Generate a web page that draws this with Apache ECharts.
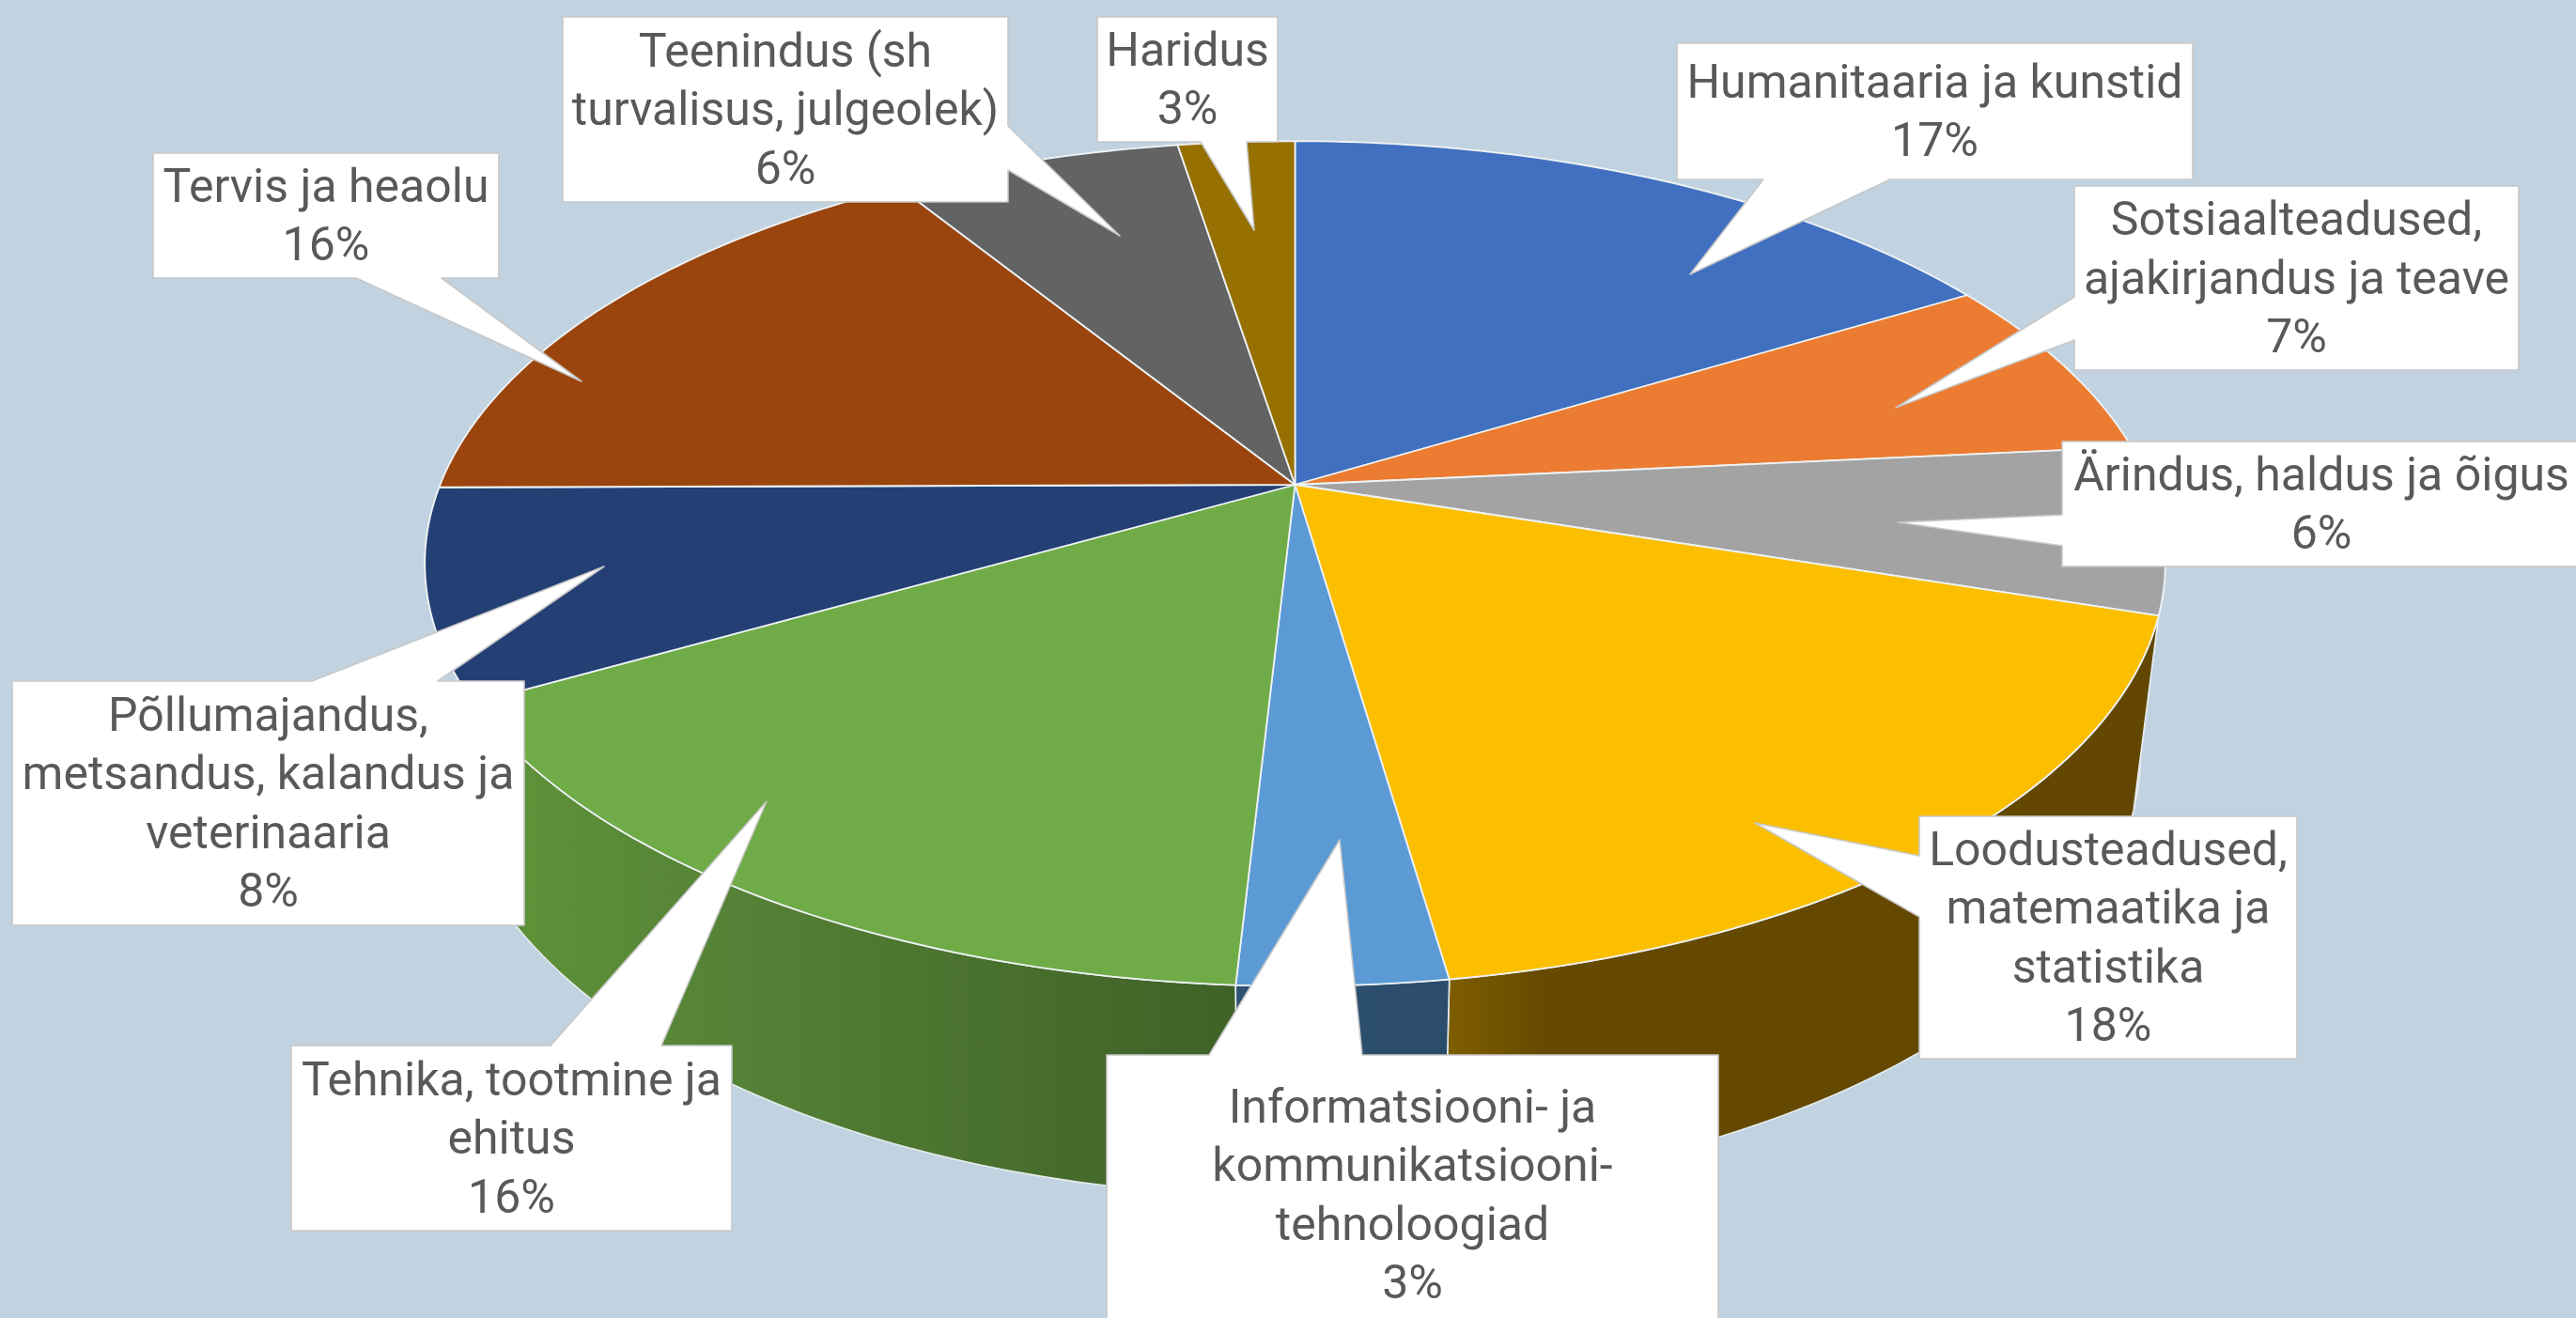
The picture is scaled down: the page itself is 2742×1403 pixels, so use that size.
<!DOCTYPE html>
<html>
<head>
<meta charset="utf-8">
<script src="https://cdn.jsdelivr.net/npm/echarts@6/dist/echarts.min.js"></script>
<style>html,body{margin:0;padding:0;background:#c1d3e0;overflow:hidden}#chart{width:2742px;height:1403px}</style>
</head>
<body>
<div id="chart"></div>
<script>
// ---- data ----
const categories = [
  'Humanitaaria ja kunstid',
  'Sotsiaalteadused,\najakirjandus ja teave',
  'Ärindus, haldus ja õigus',
  'Loodusteadused,\nmatemaatika ja\nstatistika',
  'Informatsiooni- ja\nkommunikatsiooni-\ntehnoloogiad',
  'Tehnika, tootmine ja\nehitus',
  'Põllumajandus,\nmetsandus, kalandus ja\nveterinaaria',
  'Tervis ja heaolu',
  'Teenindus (sh\nturvalisus, julgeolek)',
  'Haridus'
];
const values = [16.5, 7.0, 6.4, 17.75, 3.25, 16.0, 8.0, 16.1, 6.4, 2.6];

// ---- styling ----
const topColors = ['#4170c0','#eb7c31','#a3a3a3','#fbbf00','#5b9ad5','#6fab47','#233f74','#9a450d','#636363','#967000'];
const wallColors = ['#2c4a80','#a05520','#707070',
  [[0,'#7f5e00'],[0.14,'#664a00'],[1,'#634700']],
  [[0,'#2e5272'],[1,'#2b4c6a']],
  [[0,'#609539'],[0.36,'#548136'],[0.83,'#44692a'],[1,'#3e6227']],
  '#1f3864','#6e300a','#434343','#664c00'];
const textColor = '#595959';
const fontSize = 50, lineHeight = 62.5, textDrop = 4;

// ---- projection of the tilted disc ----
const cx = 1378.5;
const topFace = {ay:516, a:434, b:910, w:0.1867};
const baseFace = {ay:716, a:456.4, b:885, w:0.182};
function project(face, deg){
  const t = deg*Math.PI/180, X = Math.sin(t), Y = Math.cos(t), d = 1+face.w*Y;
  return [cx+face.b*X/d, face.ay-face.a*Y/d];
}
const total = values.reduce((s,v)=>s+v,0);
const starts = []; values.reduce((s,v,i)=>(starts[i]=s, s+v),0);
function rim(face,a0,a1){
  const n = Math.max(2,Math.ceil(Math.abs(a1-a0))), pts=[];
  for(let k=0;k<=n;k++) pts.push(project(face,a0+(a1-a0)*k/n));
  return pts;
}
function angles(i,api){
  const v = api.value(0);
  const a0 = starts[i]/total*360;
  return [a0, a0+v/total*360];
}
function fillOf(c){
  return Array.isArray(c)
    ? new echarts.graphic.LinearGradient(0,0,1,0,c.map(s=>({offset:s[0],color:s[1]})))
    : c;
}

// ---- callouts: box [x,y,w,h], the side the pointer leaves, base along that side, tip ----
const callouts = [
  {box:[1785,46,549,145],  side:'bottom', base:[1877,2012], tip:[1799,292]},
  {box:[2208,198,473,196], side:'left',   base:[316,362],   tip:[2018,434]},
  {box:[2195,470,552,133], side:'left',   base:[548,581],   tip:[2020,556]},
  {box:[2043,869,402,258], side:'left',   base:[911,976],   tip:[1868,876]},
  {box:[1178,1123,651,298],side:'top',    base:[1287,1450], tip:[1426,894]},
  {box:[310,1113,469,197], side:'top',    base:[586,704],   tip:[816,853]},
  {box:[13,725,545,260],   side:'top',    base:[332,466],   tip:[643,603]},
  {box:[163,163,368,133],  side:'bottom', base:[379,470],   tip:[619,406]},
  {box:[599,18,474,197],   side:'right',  base:[134,181],   tip:[1192,251]},
  {box:[1168,18,192,133],  side:'bottom', base:[1278,1327], tip:[1335,245]}
];
function outline(c){
  const [x,y,w,h]=c.box, R=x+w, B=y+h, [p,q]=c.base, t=c.tip, pts=[[x,y]];
  if(c.side==='top') pts.push([p,y],t,[q,y]);
  pts.push([R,y]);
  if(c.side==='right') pts.push([R,p],t,[R,q]);
  pts.push([R,B]);
  if(c.side==='bottom') pts.push([q,B],t,[p,B]);
  pts.push([x,B]);
  if(c.side==='left') pts.push([x,q],t,[x,p]);
  return pts;
}

const seriesData = values.map((v,i)=>({name:categories[i].replace(/\n/g,' '),value:[v,i]}));

const chart = echarts.init(document.getElementById('chart'),null,{renderer:'canvas'});
chart.setOption({
  backgroundColor:'#c1d3e0',
  animation:false,
  series:[
    { type:'custom', coordinateSystem:'none', silent:true, z:1, clip:false, data:seriesData,
      renderItem(params,api){
        const i=api.value(1), [a0,a1]=angles(i,api);
        const pts=rim(topFace,a0,a1).concat(rim(baseFace,a1,a0));
        const mid=Math.cos((a0+a1)/2*Math.PI/180);
        return {type:'polygon', z2:Math.round((1-mid)*100),
          shape:{points:pts},
          style:{fill:fillOf(wallColors[i]),stroke:'#e6ecef',lineWidth:1.6,lineJoin:'round'}};
      }},
    { type:'custom', coordinateSystem:'none', silent:true, z:2, clip:false, data:seriesData,
      renderItem(params,api){
        const i=api.value(1), [a0,a1]=angles(i,api);
        const pts=[[cx,topFace.ay]].concat(rim(topFace,a0,a1));
        return {type:'polygon', shape:{points:pts},
          style:{fill:topColors[i],stroke:'#eef2f4',lineWidth:1.8,lineJoin:'round'}};
      }},
    { type:'custom', coordinateSystem:'none', silent:true, z:3, clip:false, data:seriesData,
      renderItem(params,api){
        const i=api.value(1), c=callouts[i], [x,y,w,h]=c.box;
        const pct=Math.round(api.value(0)/total*100)+'%';
        return {type:'group',children:[
          {type:'polygon',shape:{points:outline(c)},
            style:{fill:'#ffffff',stroke:'#c8c8c8',lineWidth:1.6,lineJoin:'round'}},
          {type:'text',z2:5,style:{
            text:categories[i]+'\n'+pct,x:x+w/2,y:y+h/2+textDrop,align:'center',verticalAlign:'middle',
            fontFamily:'Roboto',fontSize:fontSize,lineHeight:lineHeight,fill:textColor}}
        ]};
      }}
  ]
});
</script>
</body>
</html>
